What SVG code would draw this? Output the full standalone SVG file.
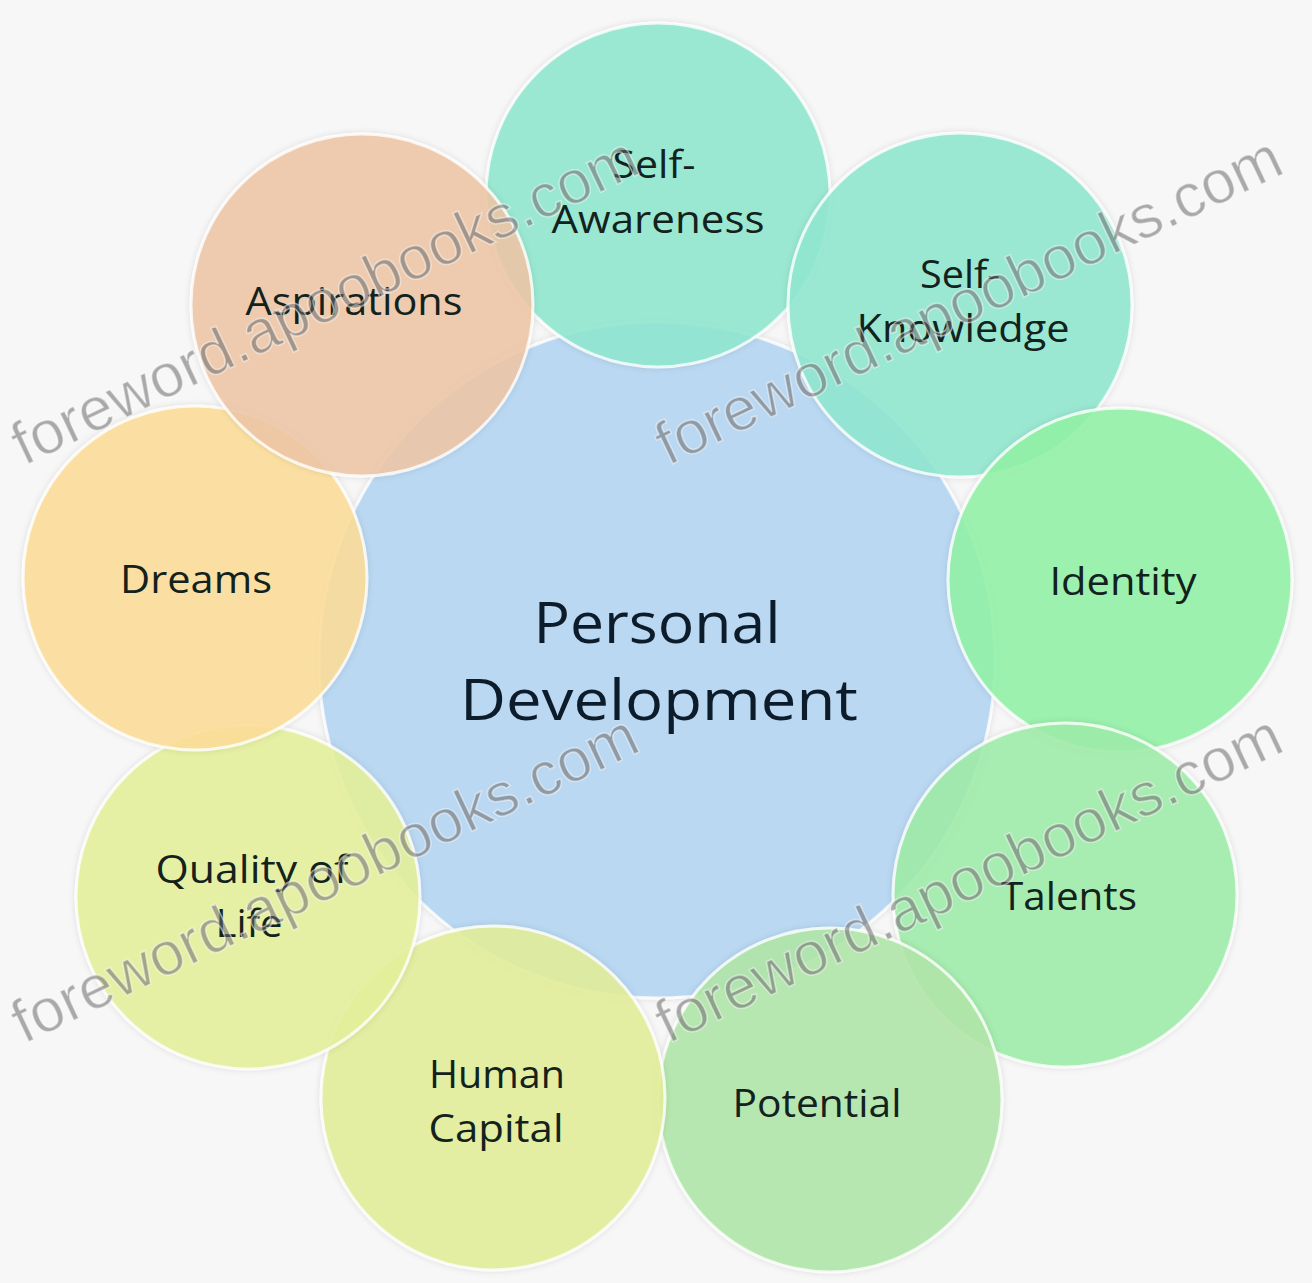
<svg xmlns="http://www.w3.org/2000/svg" width="1312" height="1283" viewBox="0 0 1312 1283">
<style>
.bg{fill:#f7f7f7}
.node circle{stroke:#ffffff;stroke-opacity:.8;stroke-width:3;fill-opacity:.88}
.lbl{font-family:"Open Sans","Liberation Sans",sans-serif;font-size:39px;fill:#13221c;text-anchor:middle}
.ctr{font-family:"Open Sans","Liberation Sans",sans-serif;font-size:57px;fill:#0c1c2a;text-anchor:middle}
.wm{font-family:"Liberation Sans",Arial,sans-serif;font-size:61px;fill:#6a6a6a;fill-opacity:.55;stroke:#ffffff;stroke-opacity:.5;stroke-width:1.5}
</style>
<defs>
<filter id="sh" x="-20%" y="-20%" width="140%" height="140%">
<feDropShadow dx="0" dy="0" stdDeviation="3" flood-color="#000" flood-opacity=".12"/>
</filter>
</defs>
<rect class="bg" x="0" y="0" width="1312" height="1283"/>
<g id="center-node" class="node">
<circle cx="657" cy="660" r="338" fill="#b3d5f2" fill-opacity="1" filter="url(#sh)"/>
</g>
<g id="connectors"></g>
<g id="node-self-awareness" class="node">
<circle cx="658" cy="195" r="172" fill="#8fe7cf" filter="url(#sh)"/>
<text class="lbl" x="654" y="178" textLength="83" lengthAdjust="spacingAndGlyphs">Self-</text>
<text class="lbl" x="658" y="233" textLength="213" lengthAdjust="spacingAndGlyphs">Awareness</text>
</g>
<g id="node-self-knowledge" class="node">
<circle cx="960" cy="305" r="172" fill="#90e7cf" filter="url(#sh)"/>
<text class="lbl" x="960" y="288" textLength="80" lengthAdjust="spacingAndGlyphs">Self-</text>
<text class="lbl" x="963" y="342" textLength="213" lengthAdjust="spacingAndGlyphs">Knowledge</text>
</g>
<g id="node-identity" class="node">
<circle cx="1120" cy="580" r="172" fill="#92f1a6" filter="url(#sh)"/>
<text class="lbl" x="1123" y="595" textLength="147" lengthAdjust="spacingAndGlyphs">Identity</text>
</g>
<g id="node-talents" class="node">
<circle cx="1065" cy="895" r="172" fill="#9eeca8" filter="url(#sh)"/>
<text class="lbl" x="1069" y="910" textLength="136" lengthAdjust="spacingAndGlyphs">Talents</text>
</g>
<g id="node-potential" class="node">
<circle cx="830" cy="1100" r="172" fill="#b0e6a9" filter="url(#sh)"/>
<text class="lbl" x="817" y="1117" textLength="169" lengthAdjust="spacingAndGlyphs">Potential</text>
</g>
<g id="node-human-capital" class="node">
<circle cx="493" cy="1098" r="172" fill="#e3ee98" filter="url(#sh)"/>
<text class="lbl" x="497" y="1088" textLength="136" lengthAdjust="spacingAndGlyphs">Human</text>
<text class="lbl" x="496" y="1142" textLength="135" lengthAdjust="spacingAndGlyphs">Capital</text>
</g>
<g id="node-quality-of-life" class="node">
<circle cx="248" cy="897" r="172" fill="#e5f09b" filter="url(#sh)"/>
<text class="lbl" x="252" y="883" textLength="193" lengthAdjust="spacingAndGlyphs">Quality of</text>
<text class="lbl" x="249" y="937" textLength="67" lengthAdjust="spacingAndGlyphs">Life</text>
</g>
<g id="node-dreams" class="node">
<circle cx="195" cy="578" r="172" fill="#fddd98" filter="url(#sh)"/>
<text class="lbl" x="196" y="593" textLength="152" lengthAdjust="spacingAndGlyphs">Dreams</text>
</g>
<g id="node-aspirations" class="node">
<circle cx="362" cy="305" r="171" fill="#eec6a6" filter="url(#sh)"/>
<text class="lbl" x="354" y="315" textLength="217" lengthAdjust="spacingAndGlyphs">Aspirations</text>
</g>
<g id="center-label">
<text class="ctr" x="657" y="643" textLength="247" lengthAdjust="spacingAndGlyphs">Personal</text>
<text class="ctr" x="659" y="720" textLength="398" lengthAdjust="spacingAndGlyphs">Development</text>
</g>
<g id="watermarks">
<text class="wm" transform="translate(24,466) rotate(-25.4)">foreword.apoobooks.com</text>
<text class="wm" transform="translate(668,466) rotate(-25.4)">foreword.apoobooks.com</text>
<text class="wm" transform="translate(24,1044) rotate(-25.4)">foreword.apoobooks.com</text>
<text class="wm" transform="translate(668,1044) rotate(-25.4)">foreword.apoobooks.com</text>
</g>
</svg>
